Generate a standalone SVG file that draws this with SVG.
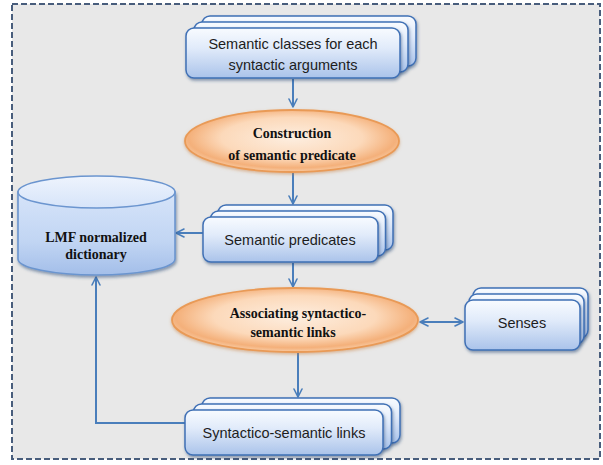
<svg xmlns="http://www.w3.org/2000/svg" width="603" height="465" viewBox="0 0 603 465">
  <defs>
    <style>
      .frame { fill: #e8e8e8; stroke: #485d7c; stroke-width: 2; stroke-dasharray: 6 3; }
      .card { fill: url(#cardFill); stroke: #3f70b5; stroke-width: 1.5; filter: url(#soft); }
      .oval { fill: url(#ovalFill); stroke: #e99a57; stroke-width: 1.8; filter: url(#softOrange); }
      .lbl { font-family: "Liberation Sans", Arial, sans-serif; font-size: 14.5px; fill: #1d1d1d; text-anchor: middle; }
      .blbl { font-family: "Liberation Serif", "Times New Roman", serif; font-weight: bold; font-size: 14px; fill: #111; text-anchor: middle; }
      .link { fill: none; stroke: #4a7ebb; stroke-width: 2; }
    </style>
    <linearGradient id="cardFill" x1="0" y1="0" x2="0" y2="1">
      <stop offset="0" stop-color="#f8fbff"/>
      <stop offset="0.4" stop-color="#e1ebfa"/>
      <stop offset="1" stop-color="#aac3ea"/>
    </linearGradient>
    <radialGradient id="ovalFill" cx="0.5" cy="0.45" r="0.55">
      <stop offset="0" stop-color="#fdeee0"/>
      <stop offset="0.6" stop-color="#fcd9ba"/>
      <stop offset="0.88" stop-color="#f4b07a"/>
      <stop offset="1" stop-color="#f8cba4"/>
    </radialGradient>
    <linearGradient id="drumBody" x1="0" y1="0" x2="0" y2="1">
      <stop offset="0" stop-color="#d6e4f9"/>
      <stop offset="0.6" stop-color="#c1d5f3"/>
      <stop offset="1" stop-color="#a3bee9"/>
    </linearGradient>
    <linearGradient id="drumTop" x1="0" y1="0" x2="0" y2="1">
      <stop offset="0" stop-color="#eef4fd"/>
      <stop offset="1" stop-color="#d6e4f9"/>
    </linearGradient>
    <filter id="soft" x="-10%" y="-20%" width="125%" height="150%">
      <feDropShadow dx="1" dy="2" stdDeviation="1.5" flood-color="#1f3f6f" flood-opacity="0.5"/>
    </filter>
    <filter id="softOrange" x="-10%" y="-20%" width="125%" height="150%">
      <feDropShadow dx="0" dy="1.5" stdDeviation="1.5" flood-color="#c9803f" flood-opacity="0.5"/>
    </filter>
    <marker id="head" viewBox="0 0 10 10" refX="9" refY="5" markerWidth="5" markerHeight="5" orient="auto-start-reverse" markerUnits="strokeWidth">
      <path d="M1,1 L9,5 L1,9" fill="none" stroke="#4a7ebb" stroke-width="1.6" stroke-linecap="round" stroke-linejoin="round"/>
    </marker>
  </defs>

  <!-- dashed outer frame -->
  <rect class="frame" x="12" y="4" width="588" height="455"/>

  <!-- connectors -->
  <g id="connectors">
    <path class="link" d="M293,79 V107" marker-end="url(#head)"/>
    <path class="link" d="M293,173 V204" marker-end="url(#head)"/>
    <path class="link" d="M203,233 H176" marker-end="url(#head)"/>
    <path class="link" d="M293,263 V287" marker-end="url(#head)"/>
    <path class="link" d="M420,322 H463" marker-start="url(#head)" marker-end="url(#head)"/>
    <path class="link" d="M298,353 V397" marker-end="url(#head)"/>
    <path class="link" d="M185,423 H96 V277" marker-end="url(#head)"/>
  </g>

  <!-- stacked card: semantic classes -->
  <g id="semantic-classes">
    <rect class="card" x="202" y="16" width="214" height="50" rx="8"/>
    <rect class="card" x="194" y="22" width="214" height="50" rx="8"/>
    <rect class="card" x="186" y="28" width="214" height="50" rx="8"/>
    <text class="lbl" x="293" y="49">Semantic classes for each</text>
    <text class="lbl" x="293" y="70">syntactic arguments</text>
  </g>

  <!-- process: construction -->
  <g id="construction">
    <ellipse class="oval" cx="292" cy="141" rx="107" ry="31"/>
    <text class="blbl" x="292" y="138">Construction</text>
    <text class="blbl" x="292" y="160">of semantic predicate</text>
  </g>

  <!-- stacked card: semantic predicates -->
  <g id="semantic-predicates">
    <rect class="card" x="218" y="205" width="175" height="45" rx="8"/>
    <rect class="card" x="210.5" y="211" width="175" height="45" rx="8"/>
    <rect class="card" x="203" y="217" width="175" height="45" rx="8"/>
    <text class="lbl" x="290" y="245">Semantic predicates</text>
  </g>

  <!-- storage: dictionary -->
  <g id="lmf-dictionary">
    <path d="M18,192 V259 A78.5,16 0 0 0 175,259 V192 Z" fill="url(#drumBody)" stroke="#6b95cf" stroke-width="1.6" filter="url(#soft)"/>
    <ellipse cx="96.5" cy="192" rx="78.5" ry="16" fill="url(#drumTop)" stroke="#6b95cf" stroke-width="1.6"/>
    <text class="blbl" x="96" y="242">LMF normalized</text>
    <text class="blbl" x="96" y="259">dictionary</text>
  </g>

  <!-- process: associating -->
  <g id="associating">
    <ellipse class="oval" cx="295" cy="320" rx="123" ry="32"/>
    <text class="blbl" x="298" y="318">Associating syntactico-</text>
    <text class="blbl" x="293" y="337">semantic links</text>
  </g>

  <!-- stacked card: senses -->
  <g id="senses">
    <rect class="card" x="473" y="288" width="115" height="50" rx="8"/>
    <rect class="card" x="469" y="294" width="115" height="50" rx="8"/>
    <rect class="card" x="465" y="300" width="115" height="50" rx="8"/>
    <text class="lbl" x="522" y="328">Senses</text>
  </g>

  <!-- stacked card: syntactico-semantic links -->
  <g id="syntactico-semantic-links">
    <rect class="card" x="202" y="398" width="198" height="45" rx="8"/>
    <rect class="card" x="193.5" y="404" width="198" height="45" rx="8"/>
    <rect class="card" x="185" y="410" width="198" height="45" rx="8"/>
    <text class="lbl" x="284" y="438">Syntactico-semantic links</text>
  </g>
</svg>
